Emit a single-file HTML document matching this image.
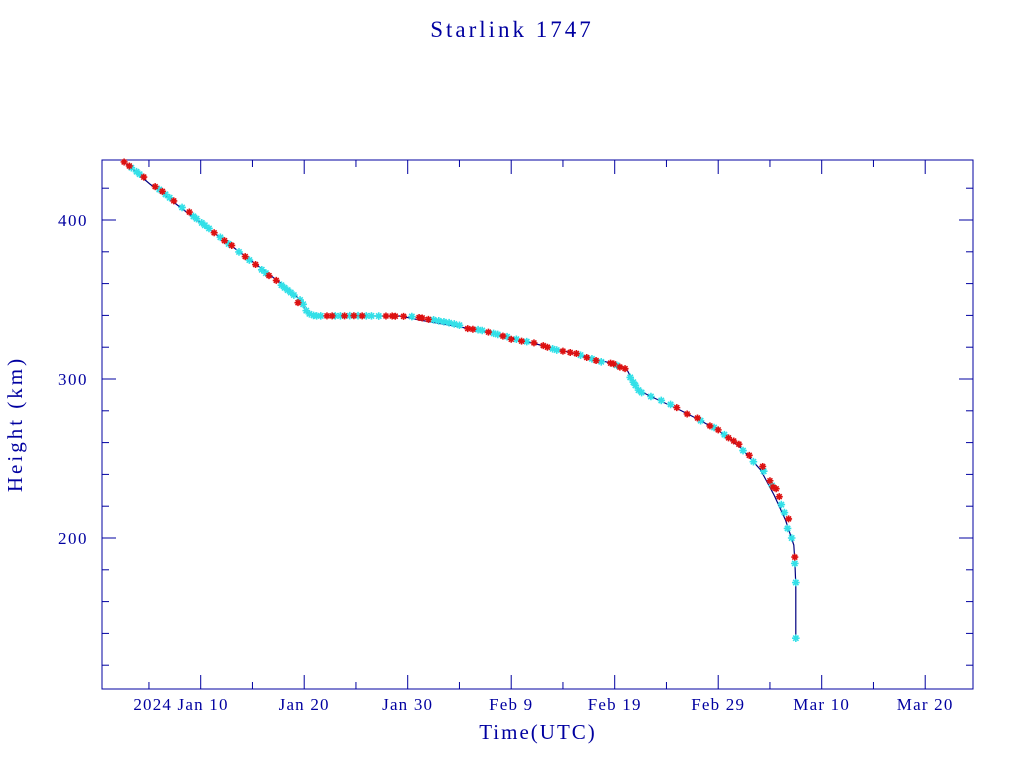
<!DOCTYPE html>
<html><head><meta charset="utf-8"><style>
body{margin:0;background:#fff}
svg{display:block;font-family:"Liberation Serif",serif}
</style></head><body>
<svg id="chart" width="1024" height="768" viewBox="0 0 1024 768">
<text x="512" y="37" text-anchor="middle" font-size="23" letter-spacing="3" fill="#0000a0">Starlink 1747</text>
<rect x="102" y="160" width="871" height="529" fill="none" stroke="#0000a0" stroke-width="1"/>
<g id="axes"></g>
<g id="marks"></g>
<text x="538" y="739" text-anchor="middle" font-size="21" letter-spacing="2" fill="#0000a0">Time(UTC)</text>
<text transform="translate(22,424) rotate(-90)" text-anchor="middle" font-size="21" letter-spacing="3" fill="#0000a0">Height (km)</text>
</svg>
<script>
const lineDays=[2.5,5.1,9.9,14.8,18.6,19.6,20.2,20.8,22.5,29.3,31.2,35.1,38.9,42.8,46.7,49.6,51.1,51.7,52.3,53.4,56.3,58.2,60.2,62.2,64.1,65.4,66.5,67.3,67.4,67.5,67.5];
const lineKm=[437,422.6,398.7,374.8,356,349.7,342,339.6,339.6,339.6,337,332.7,327.7,321.4,315,310,306.9,299.4,293,289.3,280.5,274.2,266.7,256.6,242.8,227,211.3,195.6,186,170.4,137];
const cyanDays=[3.3,3.8,4.1,6,6.6,7,8.2,9.3,9.6,10.1,10.4,10.8,11.9,12.7,13.7,14.7,15.9,16.3,17.8,18.1,18.4,18.7,19,19.6,19.9,20.2,20.5,20.9,21.2,21.6,23,23.5,24.4,25.2,26,26.5,27.2,30.4,32.5,33,33.5,34,34.5,35,36.8,37.2,38.3,38.7,39.6,40.5,41.5,44,44.4,46.7,47.8,48.7,50.2,51.5,51.8,52,52.3,52.6,53.5,54.5,55.4,58.3,59.6,60.6,62.4,63.4,64.4,65.2,66.1,66.4,66.7,67.1,67.4,67.5,67.5];
const cyanKm=[432.9,430.4,428.8,419.2,416.1,414,407.9,402.3,400.8,398.2,396.7,394.7,389.1,385,379.9,374.8,368.7,366.6,359,357.4,355.9,354.4,352.8,349.7,347,343,341,340,339.7,339.7,339.7,339.7,339.8,339.8,339.7,339.7,339.6,339.3,337.2,336.6,336,335.4,334.6,333.8,331,330.5,328.7,328,326.6,325,323.5,319,318.2,315,312.7,310.8,308.6,301,298,296,293,291.5,289,286.5,284,273.8,269.5,265,255,248,242,233,221,216,206,200,184,172,137];
const redDays=[2.6,3.1,4.5,5.6,6.3,7.4,8.9,11.3,12.3,13,14.3,15.3,16.6,17.3,19.4,22.2,22.7,23.9,24.8,25.6,27.9,28.5,28.8,29.6,31.1,31.4,32,35.8,36.3,37.8,39.2,40,41,42.2,43.1,43.5,45,45.7,46.3,47.3,48.2,49.6,49.9,50.5,51,56,57,58,59.2,60,61,61.5,62,63,64.3,65,65.3,65.6,65.9,66.8,67.4];
const redKm=[436.5,434,427,421,418,412,405,392,387,384,377,372,365,362,348,339.7,339.7,339.7,339.8,339.7,339.6,339.6,339.5,339.4,338.7,338.4,337.5,331.7,331.3,329.5,327,325,323.8,322.7,321,320,317.5,316.7,316,313.5,311.6,310,309.5,307.5,306.5,282,278,275.5,270.5,268,263,261,259,252,245,236,232,231,226,212,188];
const yTicks=[200,300,400];
const xTickDays=[10,20,30,40,50,60,70,80];
const xTickLabels=["2024 Jan 10","Jan 20","Jan 30","Feb  9","Feb 19","Feb 29","Mar 10","Mar 20"];

const NS="http://www.w3.org/2000/svg";
const X0=102,X1=973,Y0=160,Y1=689;
function xs(d){return 200.7+(d-10)*10.35;}
function ys(h){return 220+(400-h)*1.59;}
const C="#0000a0";
const axes=document.getElementById('axes');
const marks=document.getElementById('marks');
function mk(tag,attrs,parent){const e=document.createElementNS(NS,tag);for(const k in attrs)e.setAttribute(k,attrs[k]);parent.appendChild(e);return e;}
for(let h=120;h<=430;h+=20){
  const y=ys(h);const major=h%100===0;const L=major?14:7;
  const t1=mk('line',{x1:X0,x2:X0+L,y1:y,y2:y,stroke:C},axes);
  
  
  const t2=mk('line',{x1:X1,x2:X1-L,y1:y,y2:y,stroke:C},axes);
  
  
}
yTicks.forEach(h=>{
  const t=mk('text',{x:88,y:ys(h)+6,'text-anchor':'end','font-size':17,'letter-spacing':1.5,fill:C},axes);
  t.textContent=h;
  
  
});
for(let d=5;d<=84;d+=5){
  const x=xs(d);const major=d%10===0;const L=major?14:7;
  const a=mk('line',{x1:x,x2:x,y1:Y1,y2:Y1-L,stroke:C},axes);
  
  
  const b=mk('line',{x1:x,x2:x,y1:Y0,y2:Y0+L,stroke:C},axes);
  
  
}
xTickDays.forEach((d,i)=>{
  let x=xs(d);let anchor='middle';
  if(i===0){x=xs(d)+28;anchor='end';}
  const t=mk('text',{x:x,y:710,'text-anchor':anchor,'font-size':17,'letter-spacing':1.2,fill:C,'xml:space':'preserve'},axes);
  t.textContent=xTickLabels[i];
  
  
});
let dstr='';
lineDays.forEach((d,i)=>{dstr+=(i?'L':'M')+xs(d).toFixed(1)+','+ys(lineKm[i]).toFixed(1);});
const ln=mk('path',{d:dstr,fill:'none',stroke:'#000080','stroke-width':1.2},marks);


function star(x,y,col,r,name){
  const g=mk('path',{d:`M${x-r},${y}H${x+r}M${x},${y-r}V${y+r}M${x-r*0.7},${y-r*0.7}L${x+r*0.7},${y+r*0.7}M${x-r*0.7},${y+r*0.7}L${x+r*0.7},${y-r*0.7}`,stroke:col,'stroke-width':1.6,fill:'none'},marks);
  
  
}
cyanDays.forEach((d,i)=>star(xs(d),ys(cyanKm[i]),'#33e0e8',3.8,'cyan-point'));
redDays.forEach((d,i)=>star(xs(d),ys(redKm[i]),'#dd1111',3.5,'red-point'));
</script>
</body></html>
